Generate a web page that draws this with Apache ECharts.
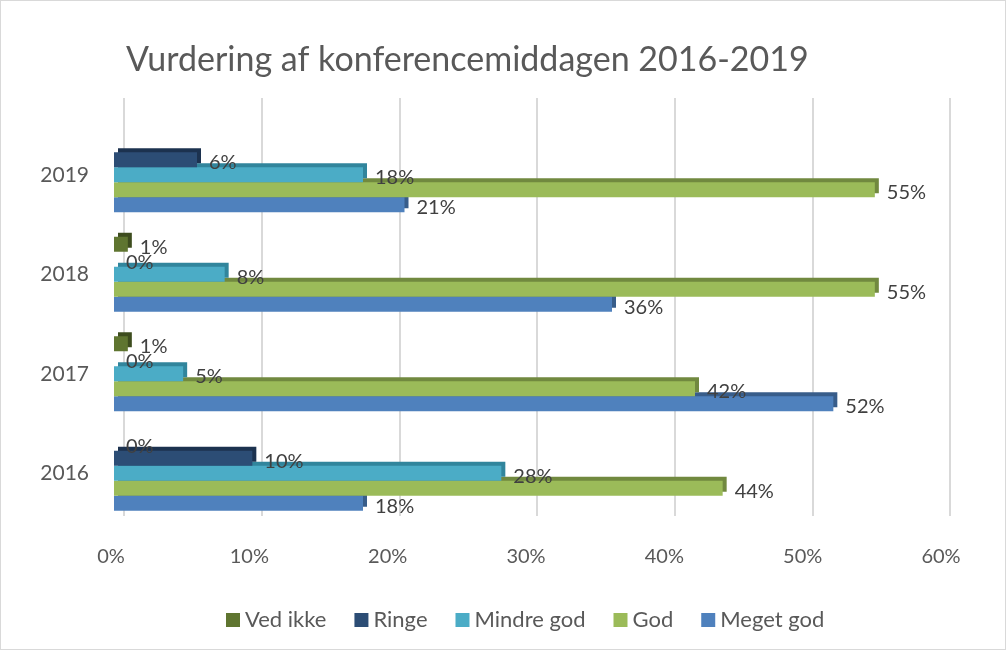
<!DOCTYPE html>
<html>
<head>
<meta charset="utf-8">
<script src="https://cdn.jsdelivr.net/npm/echarts@6/dist/echarts.min.js"></script>
<style>
  html, body { margin: 0; padding: 0; background: #fff; }
  #chart { width: 1006px; height: 650px; box-sizing: border-box; border: 1px solid #d9d9d9; }
</style>
</head>
<body>
<div id="chart"></div>
<script>
// ── Vurdering af konferencemiddagen 2016-2019 ──

const years = ['2016', '2017', '2018', '2019'];
const xTicks = [0, 10, 20, 30, 40, 50, 60];

// percent per year (2016 → 2019); null = no bar
const vedIkke   = [0, 1, 1, null];
const ringe     = [10, 0, 0, 6];
const mindreGod = [28, 5, 8, 18];
const god       = [44, 42, 55, 55];
const megetGod  = [18, 52, 36, 21];

const legendOrder = ['Ved ikke', 'Ringe', 'Mindre god', 'God', 'Meget god'];

const FONT = 'Lato';
const TXT = '#595959';

const chart = echarts.init(document.getElementById('chart'));

// front colour + darker colour for the fake 3D side/top
function barSeries(name, data, color, side, z) {
  return {
    name, type: 'bar', data,
    xAxisIndex: 0, yAxisIndex: 0,
    barWidth: 15, barGap: '0%', z,
    itemStyle: { color, shadowColor: side, shadowBlur: 0, shadowOffsetX: 4, shadowOffsetY: -4 },
    label: {
      show: true, position: 'right', distance: 12, offset: [0, 3],
      color: '#404040', fontSize: 20, fontFamily: FONT,
      formatter: p => p.value + '%',
    },
  };
}

chart.setOption({
  backgroundColor: '#fff',
  animation: false,
  title: {
    text: 'Vurdering af konferencemiddagen 2016-2019',
    left: 120, top: 37,
    textStyle: { color: TXT, fontSize: 34, fontWeight: 'normal', fontFamily: FONT },
  },
  legend: {
    data: legendOrder,
    left: 220, top: 603,
    itemWidth: 14, itemHeight: 14, itemGap: 28,
    icon: 'rect',
    textStyle: { color: TXT, fontSize: 22, fontFamily: FONT },
  },
  grid: [
    { left: 113, width: 830, top: 124, height: 398 },   // bars (front plane)
    { left: 123, width: 826, top: 97, height: 418 },    // back wall gridlines
  ],
  xAxis: [
    {
      gridIndex: 0, type: 'value', min: xTicks[0], max: xTicks[xTicks.length - 1], interval: 10,
      axisLine: { show: false }, axisTick: { show: false }, splitLine: { show: false },
      axisLabel: { color: TXT, fontSize: 20, fontFamily: FONT, margin: 24, formatter: '{value}%', padding: [0, 6, 0, 0] },
    },
    {
      gridIndex: 1, type: 'value', min: xTicks[0], max: xTicks[xTicks.length - 1], interval: 10,
      axisLine: { show: false }, axisTick: { show: false }, axisLabel: { show: false },
      splitLine: { lineStyle: { color: '#d9d9d9', width: 2 } },
    },
  ],
  yAxis: [
    {
      gridIndex: 0, type: 'category', data: years,
      axisLine: { show: false }, axisTick: { show: false },
      axisLabel: { color: TXT, fontSize: 21, fontFamily: FONT, margin: 25, padding: [8, 0, 0, 0] },
    },
    {
      gridIndex: 1, type: 'category', data: years, show: false,
    },
  ],
  // first series sits at the top of each band; z keeps lower bars' 3D top under upper bars
  series: [
    barSeries('Ved ikke', vedIkke, '#5f7530', '#3d4c1e', 6),
    barSeries('Ringe', ringe, '#2c4d75', '#1c324f', 5),
    barSeries('Mindre god', mindreGod, '#4bacc6', '#31859c', 4),
    barSeries('God', god, '#9bbb59', '#71893f', 3),
    barSeries('Meget god', megetGod, '#4f81bd', '#385d8a', 2),
  ],
});
</script>
</body>
</html>
